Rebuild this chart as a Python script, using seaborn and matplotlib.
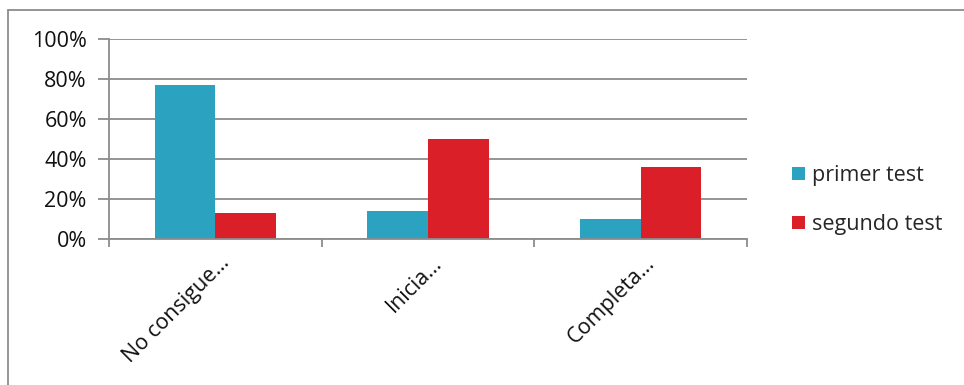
import matplotlib
matplotlib.use("Agg")
import matplotlib.pyplot as plt
import matplotlib.lines as mlines
import matplotlib.patches as mpatches
import matplotlib.transforms as mtransforms
import seaborn as sns
import pandas as pd

categories = ["No consigue…", "Inicia…", "Completa…"]
series_names = ["primer test", "segundo test"]
primer_test = [0.77, 0.14, 0.10]
segundo_test = [0.13, 0.50, 0.36]
y_ticks = [0.0, 0.2, 0.4, 0.6, 0.8, 1.0]
y_tick_labels = ["0%", "20%", "40%", "60%", "80%", "100%"]

colors = ["#2CA2C1", "#DB1F29"]

df = pd.DataFrame({
    "categoria": categories * 2,
    "serie": [series_names[0]] * 3 + [series_names[1]] * 3,
    "valor": primer_test + segundo_test,
})

sns.set_theme(style="white")
plt.rcParams["font.family"] = ["Open Sans", "DejaVu Sans"]

FS = 15.5

fig = plt.figure(figsize=(9.64, 3.85), dpi=100)
ax = fig.add_axes([109 / 964, 1 - 238.7 / 385, (747 - 109) / 964, 200 / 385])

sns.barplot(data=df, x="categoria", y="valor", hue="serie", order=categories,
            hue_order=series_names, palette=colors, width=0.57, gap=0,
            saturation=1, linewidth=0, ax=ax, legend=False)

ax.set_ylim(0, 1.0)
ax.set_xlim(-0.5, 2.5)
ax.set_yticks(y_ticks)
ax.set_yticklabels(y_tick_labels, fontsize=FS, color="#111111")
ax.yaxis.grid(True, color="#8c8c8c", linewidth=1.3)
ax.set_axisbelow(True)
ax.set_xlabel("")
ax.set_ylabel("")

for side in ["top", "right"]:
    ax.spines[side].set_visible(False)
for side in ["left", "bottom"]:
    ax.spines[side].set_color("#8c8c8c")
    ax.spines[side].set_linewidth(1.3)

ax.tick_params(axis="y", which="major", length=8, width=1.3, color="#8c8c8c",
               left=True, pad=8)
ax.set_xticks(range(len(categories)))
ax.set_xticklabels(categories, rotation=45, ha="right", rotation_mode="anchor",
                   fontsize=FS, color="#111111")
ax.tick_params(axis="x", which="major", length=0, pad=10)
ax.set_xticks([-0.5, 0.5, 1.5, 2.5], minor=True)
ax.tick_params(axis="x", which="minor", length=6, width=1.3, color="#8c8c8c",
               bottom=True)
shift = mtransforms.ScaledTranslation(0.04, 0, fig.dpi_scale_trans)
for lbl in ax.get_xticklabels():
    lbl.set_transform(lbl.get_transform() + shift)

handles = [mpatches.Patch(facecolor=c, edgecolor="none", label=n)
           for c, n in zip(colors, series_names)]
fig.legend(handles=handles, loc="center left", bbox_to_anchor=(792 / 964, 1 - 200 / 385),
           frameon=False, fontsize=FS, handlelength=0.6, handleheight=0.6,
           handletextpad=0.35, labelspacing=1.3, borderaxespad=0, borderpad=0)

# chart-area border (top and left edges)
fig.add_artist(mlines.Line2D([8 / 964, 1.0], [1 - 9.5 / 385, 1 - 9.5 / 385],
                             transform=fig.transFigure, color="#8c8c8c", linewidth=1.3))
fig.add_artist(mlines.Line2D([8 / 964, 8 / 964], [0.0, 1 - 9.5 / 385],
                             transform=fig.transFigure, color="#8c8c8c", linewidth=1.3))

fig.savefig("out.png", dpi=100)
